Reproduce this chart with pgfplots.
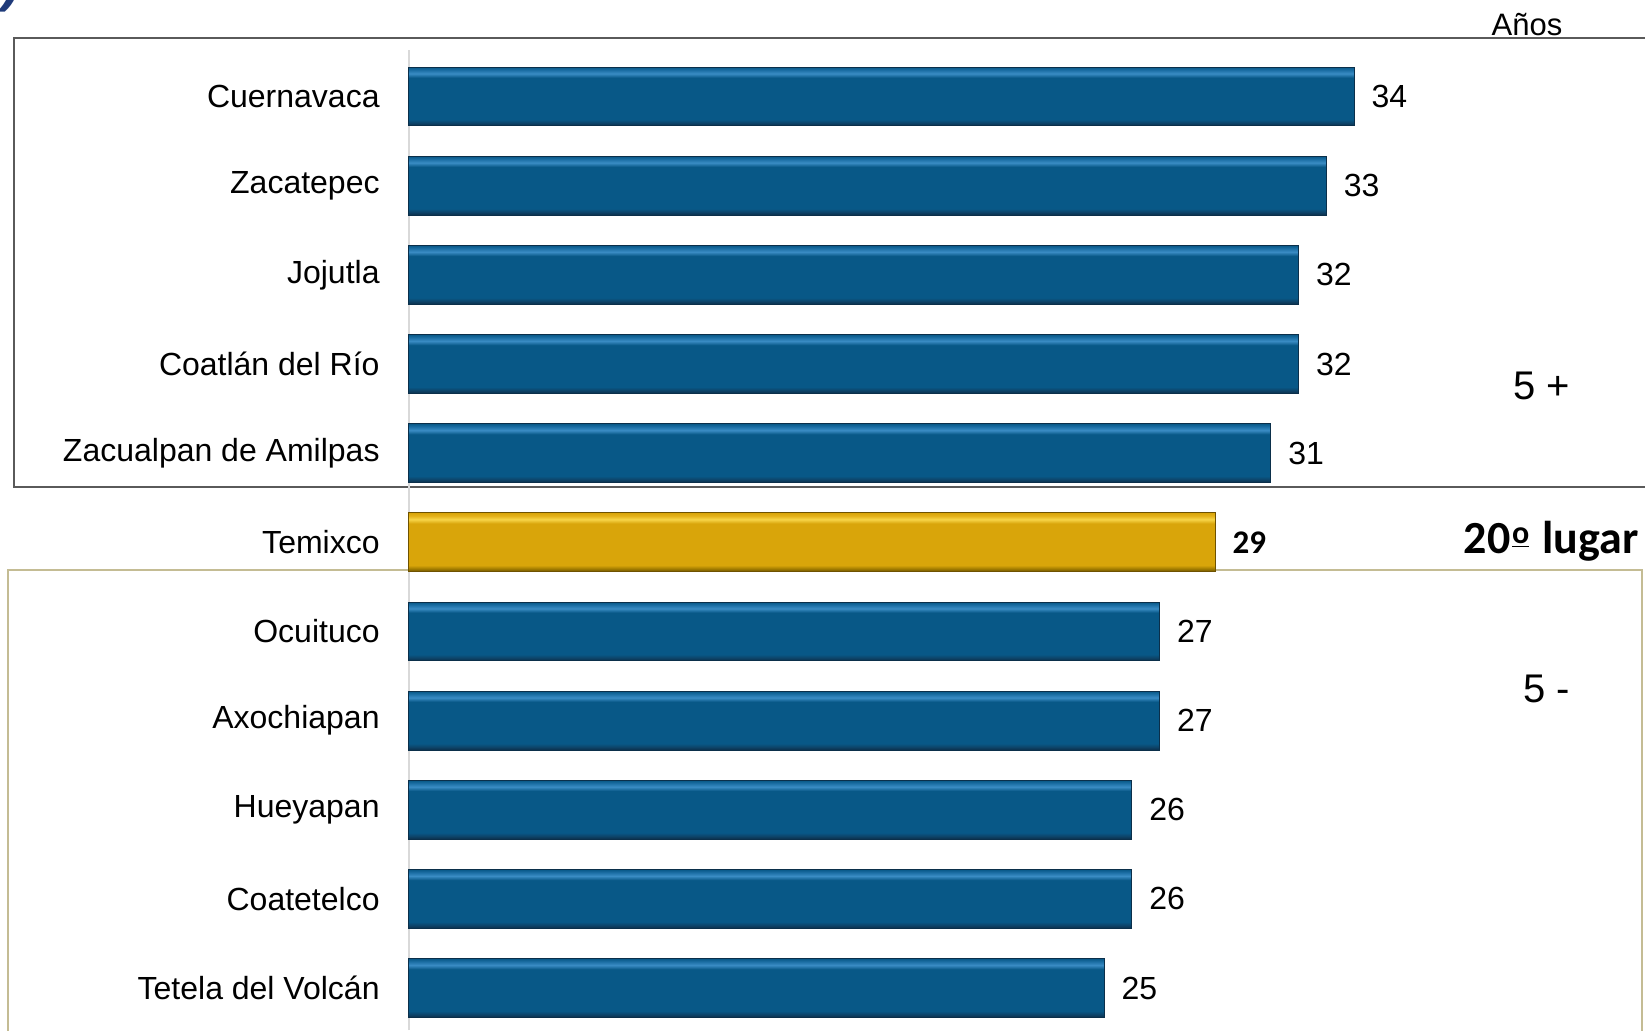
\documentclass[border=0pt]{standalone}
\usepackage{pgfplots}
\pgfplotsset{compat=1.18}
\usepackage{fontspec}
\setmainfont{Liberation Sans}
\newfontfamily\carlito{Carlito}
\definecolor{bmain}{HTML}{085887}
\definecolor{bdark}{HTML}{0B2F4A}
\definecolor{bdark2}{HTML}{0D4368}
\definecolor{blight}{HTML}{3A8CC4}
\definecolor{bmid}{HTML}{1C6FA5}
\definecolor{gmain}{HTML}{D9A50A}
\definecolor{gdark}{HTML}{6E5200}
\definecolor{gdark2}{HTML}{A07A00}
\definecolor{glight}{HTML}{F7D548}
\definecolor{gmid}{HTML}{E4B21A}
\definecolor{frameA}{HTML}{5A5A5A}
\definecolor{frameB}{HTML}{C4BC94}
\definecolor{navy}{HTML}{1F3B7A}
\pgfdeclareverticalshading{bevelblue}{100bp}{color(0bp)=(bdark); color(25bp)=(bdark); color(27.5bp)=(bdark2); color(30.5bp)=(bmain); color(66bp)=(bmain); color(69.5bp)=(blight); color(72.5bp)=(bmid); color(75bp)=(bmain); color(100bp)=(bmain)}
\pgfdeclareverticalshading{bevelgold}{100bp}{color(0bp)=(gdark); color(25bp)=(gdark); color(27.5bp)=(gdark2); color(30.5bp)=(gmain); color(66bp)=(gmain); color(69.5bp)=(glight); color(72.5bp)=(gmid); color(75bp)=(gmain); color(100bp)=(gmain)}
\pgfplotsset{
  bluebar/.style={draw=bdark, line width=0.5pt, shade, shading=bevelblue,
    every node near coord/.append style={font=\fontsize{16}{19}\selectfont}},
}
\begin{document}
\begin{tikzpicture}
\useasboundingbox (0,0) rectangle (822.5pt,515pt);
% frames
\draw[frameA, line width=1pt] (830pt,496pt) -- (7pt,496pt) -- (7pt,271.5pt) -- (830pt,271.5pt);
\draw[frameB, line width=1pt] (4.2pt,-5pt) -- (4.2pt,230.2pt) -- (820.85pt,230.2pt) -- (820.85pt,-5pt);
\begin{axis}[
  at={(204.5pt,0pt)}, anchor=south west,
  scale only axis, width=556pt, height=489.9pt,
  xmin=0, xmax=40, ymin=0.53, ymax=11.52,
  axis x line=none,
  axis y line*=left,
  y axis line style={draw=black!15, line width=0.8pt},
  major tick length=0pt,
  ytick={1,...,11},
  yticklabels={Tetela del Volcán, Coatetelco, Hueyapan, Axochiapan, Ocuituco, Temixco, Zacualpan de Amilpas, Coatlán del Río, Jojutla, Zacatepec, Cuernavaca},
  yticklabel style={font=\fontsize{16}{19}\selectfont, anchor=east, inner sep=0pt, xshift=-14.5pt},
  xbar, bar width=29.4pt, bar shift=0pt,
  /pgf/number format/assume math mode=true,
  nodes near coords,
  every node near coord/.append style={anchor=west, inner sep=0pt, xshift=8.5pt},
  clip=false,
]
\addplot[bluebar] coordinates {(34,11)};
\addplot[bluebar] coordinates {(33,10)};
\addplot[bluebar] coordinates {(32,9)};
\addplot[bluebar] coordinates {(32,8)};
\addplot[bluebar] coordinates {(31,7)};
\addplot[draw=gdark, line width=0.5pt, shade, shading=bevelgold,
  every node near coord/.append style={font=\carlito\bfseries\fontsize{16.5}{19}\selectfont}]
  coordinates {(29,6)};
\addplot[bluebar] coordinates {(27,5)};
\addplot[bluebar] coordinates {(27,4)};
\addplot[bluebar] coordinates {(26,3)};
\addplot[bluebar] coordinates {(26,2)};
\addplot[bluebar] coordinates {(25,1)};
\end{axis}
\node[font=\fontsize{15.5}{18}\selectfont, inner sep=0pt] at (763.5pt,502.5pt) {Años};
\node[font=\fontsize{20}{24}\selectfont, inner sep=0pt] at (771pt,322pt) {5 +};
\node[font=\fontsize{20}{24}\selectfont, inner sep=0pt] at (773.5pt,170.5pt) {5 -};
\node[font=\carlito\bfseries\fontsize{23}{28}\selectfont, inner sep=0pt, anchor=east] at (819.5pt,244.5pt)
  {20\kern0.04em\raisebox{0.22em}{\fontsize{16}{16}\selectfont\underline{o}}\kern0.06em\ lugar};
\node[font=\bfseries\itshape\fontsize{28}{32}\selectfont, text=navy, inner sep=0pt, anchor=south] at (6pt,508.5pt) {)};
\end{tikzpicture}
\end{document}
